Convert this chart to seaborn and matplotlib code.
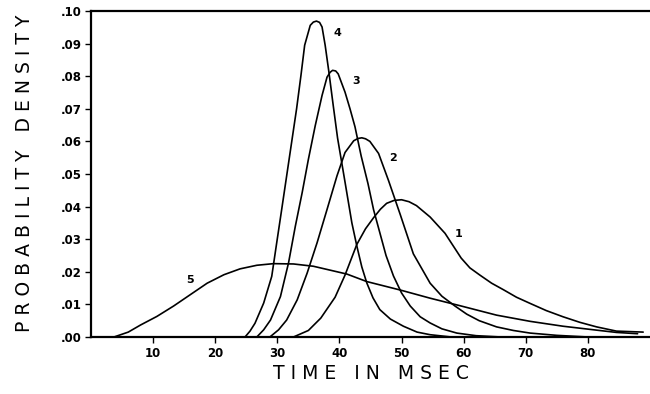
#bibliotecas
import pandas as pd
import matplotlib
matplotlib.use('Agg')
import matplotlib.pyplot as plt
import seaborn as sns

#dados (tempo em msec, densidade)
t1 = [32.6, 35.0, 37.0, 39.3, 40.9, 42.8, 44.2, 45.5, 46.6, 47.6, 48.8, 50.0, 51.2, 52.4, 54.6, 57.0, 58.3, 59.6, 61.0, 62.6, 64.5, 66.4, 68.5, 70.7, 73.3, 76.0, 78.7, 81.4, 84.6, 88.9]
d1 = [0.0, 0.0020, 0.0058, 0.0122, 0.0190, 0.0284, 0.0332, 0.0366, 0.0392, 0.0410, 0.0419, 0.0421, 0.0415, 0.0403, 0.0368, 0.0318, 0.0280, 0.0242, 0.0212, 0.0190, 0.0165, 0.0145, 0.0122, 0.0103, 0.0081, 0.0062, 0.0045, 0.0031, 0.0018, 0.0015]

t2 = [28.8, 30.2, 31.5, 33.2, 34.8, 36.4, 38.0, 39.6, 40.9, 42.3, 43.0, 43.6, 44.2, 44.9, 46.3, 47.9, 49.8, 51.9, 54.6, 56.5, 58.6, 60.5, 62.5, 65.3, 68.0, 70.7, 75.0, 80.0]
d2 = [0.0, 0.0022, 0.0052, 0.0114, 0.0196, 0.0289, 0.0391, 0.0494, 0.0566, 0.0602, 0.0609, 0.0611, 0.0608, 0.0600, 0.0563, 0.0480, 0.0375, 0.0255, 0.0165, 0.0125, 0.0095, 0.0070, 0.0050, 0.0031, 0.0020, 0.0012, 0.0005, 0.0]

t3 = [26.7, 27.8, 28.9, 30.5, 31.8, 32.9, 34.0, 35.0, 36.1, 37.2, 38.0, 38.5, 38.9, 39.4, 39.8, 40.9, 41.7, 42.5, 43.5, 44.6, 45.5, 46.5, 47.5, 48.7, 50.0, 51.4, 53.0, 54.6, 56.5, 58.9, 62.0, 66.0]
d3 = [0.0, 0.0022, 0.0052, 0.0124, 0.0227, 0.0340, 0.0443, 0.0545, 0.0648, 0.0741, 0.0797, 0.0812, 0.0818, 0.0816, 0.0807, 0.0751, 0.0700, 0.0645, 0.0555, 0.0470, 0.0390, 0.0320, 0.0250, 0.0187, 0.0135, 0.0095, 0.0062, 0.0043, 0.0025, 0.0012, 0.0004, 0.0]

t4 = [24.8, 25.6, 26.4, 27.8, 29.1, 29.9, 30.7, 31.5, 32.3, 33.1, 33.8, 34.4, 35.3, 35.8, 36.3, 36.8, 37.2, 37.7, 38.3, 39.0, 39.7, 40.9, 42.0, 42.8, 43.6, 44.4, 45.4, 46.5, 48.2, 50.3, 52.5, 54.6, 58.0]
d4 = [0.0, 0.0018, 0.0042, 0.0104, 0.0186, 0.0289, 0.0391, 0.0494, 0.0597, 0.0700, 0.0802, 0.0895, 0.0956, 0.0966, 0.0969, 0.0965, 0.0951, 0.0895, 0.0813, 0.0710, 0.0610, 0.0475, 0.0350, 0.0279, 0.0215, 0.0166, 0.0120, 0.0084, 0.0055, 0.0033, 0.0015, 0.0007, 0.0]

t5 = [3.7, 6.0, 8.0, 10.6, 13.3, 16.0, 18.7, 21.4, 24.0, 26.7, 29.4, 32.6, 35.8, 38.5, 41.2, 44.4, 49.8, 54.6, 59.4, 65.3, 70.7, 76.0, 81.4, 84.6, 88.0]
d5 = [0.0, 0.0015, 0.0037, 0.0063, 0.0095, 0.0130, 0.0165, 0.0191, 0.0209, 0.0220, 0.0225, 0.0224, 0.0217, 0.0205, 0.0193, 0.0170, 0.0144, 0.0119, 0.0096, 0.0067, 0.0048, 0.0033, 0.0021, 0.0014, 0.0010]

curvas = ['1', '2', '3', '4', '5']
rotulos_pos = {'1': (59.1, 0.0317), '2': (48.6, 0.0548), '3': (42.7, 0.0784),
               '4': (39.7, 0.0931), '5': (16.0, 0.0174)}

xticks = [10, 20, 30, 40, 50, 60, 70, 80]
yticks = [0.00, 0.01, 0.02, 0.03, 0.04, 0.05, 0.06, 0.07, 0.08, 0.09, 0.10]

#base longa
partes = []
for nome, t, d in zip(curvas, [t1, t2, t3, t4, t5], [d1, d2, d3, d4, d5]):
    partes.append(pd.DataFrame({'tempo': t, 'densidade': d, 'curva': nome}))
df = pd.concat(partes, ignore_index=True)

sns.set_style('ticks')
plt.rcParams['font.family'] = ['DejaVu Sans']
plt.rcParams['text.color'] = 'black'
plt.rcParams['axes.labelcolor'] = 'black'
plt.rcParams['xtick.color'] = 'black'
plt.rcParams['ytick.color'] = 'black'

fig = plt.figure(figsize=(6.5, 3.94), dpi=100)
ax = fig.add_axes([0.14, 0.1447, 0.86, 0.8274])

sns.lineplot(data=df, x='tempo', y='densidade', hue='curva',
             palette=['black'] * 5, legend=False, estimator=None,
             sort=False, lw=1.2, ax=ax)

for nome in curvas:
    x, y = rotulos_pos[nome]
    ax.text(x, y, nome, fontsize=8, fontweight='bold', ha='center', va='center')

ax.set_xlim(0, 90)
ax.set_ylim(0, 0.10)
ax.set_xticks(xticks)
ax.set_yticks(yticks)
ax.set_yticklabels(['.%02d' % round(v * 100) for v in yticks])
ax.tick_params(direction='out', length=4, width=1, pad=3, labelsize=8.5)
for lab in ax.get_xticklabels() + ax.get_yticklabels():
    lab.set_fontweight('bold')

for lado in ['left', 'bottom', 'top']:
    ax.spines[lado].set_visible(True)
    ax.spines[lado].set_linewidth(1.6)
    ax.spines[lado].set_color('black')
ax.spines['right'].set_visible(False)

ax.set_xlabel('T I M E   I N   M S E C', fontsize=13.5)
ax.set_ylabel('P R O B A B I L I T Y   D E N S I T Y', fontsize=13.5)
ax.xaxis.set_label_coords(0.5, -0.083)
ax.yaxis.set_label_coords(-0.102, 0.503)

fig.savefig('out.png', dpi=100)
